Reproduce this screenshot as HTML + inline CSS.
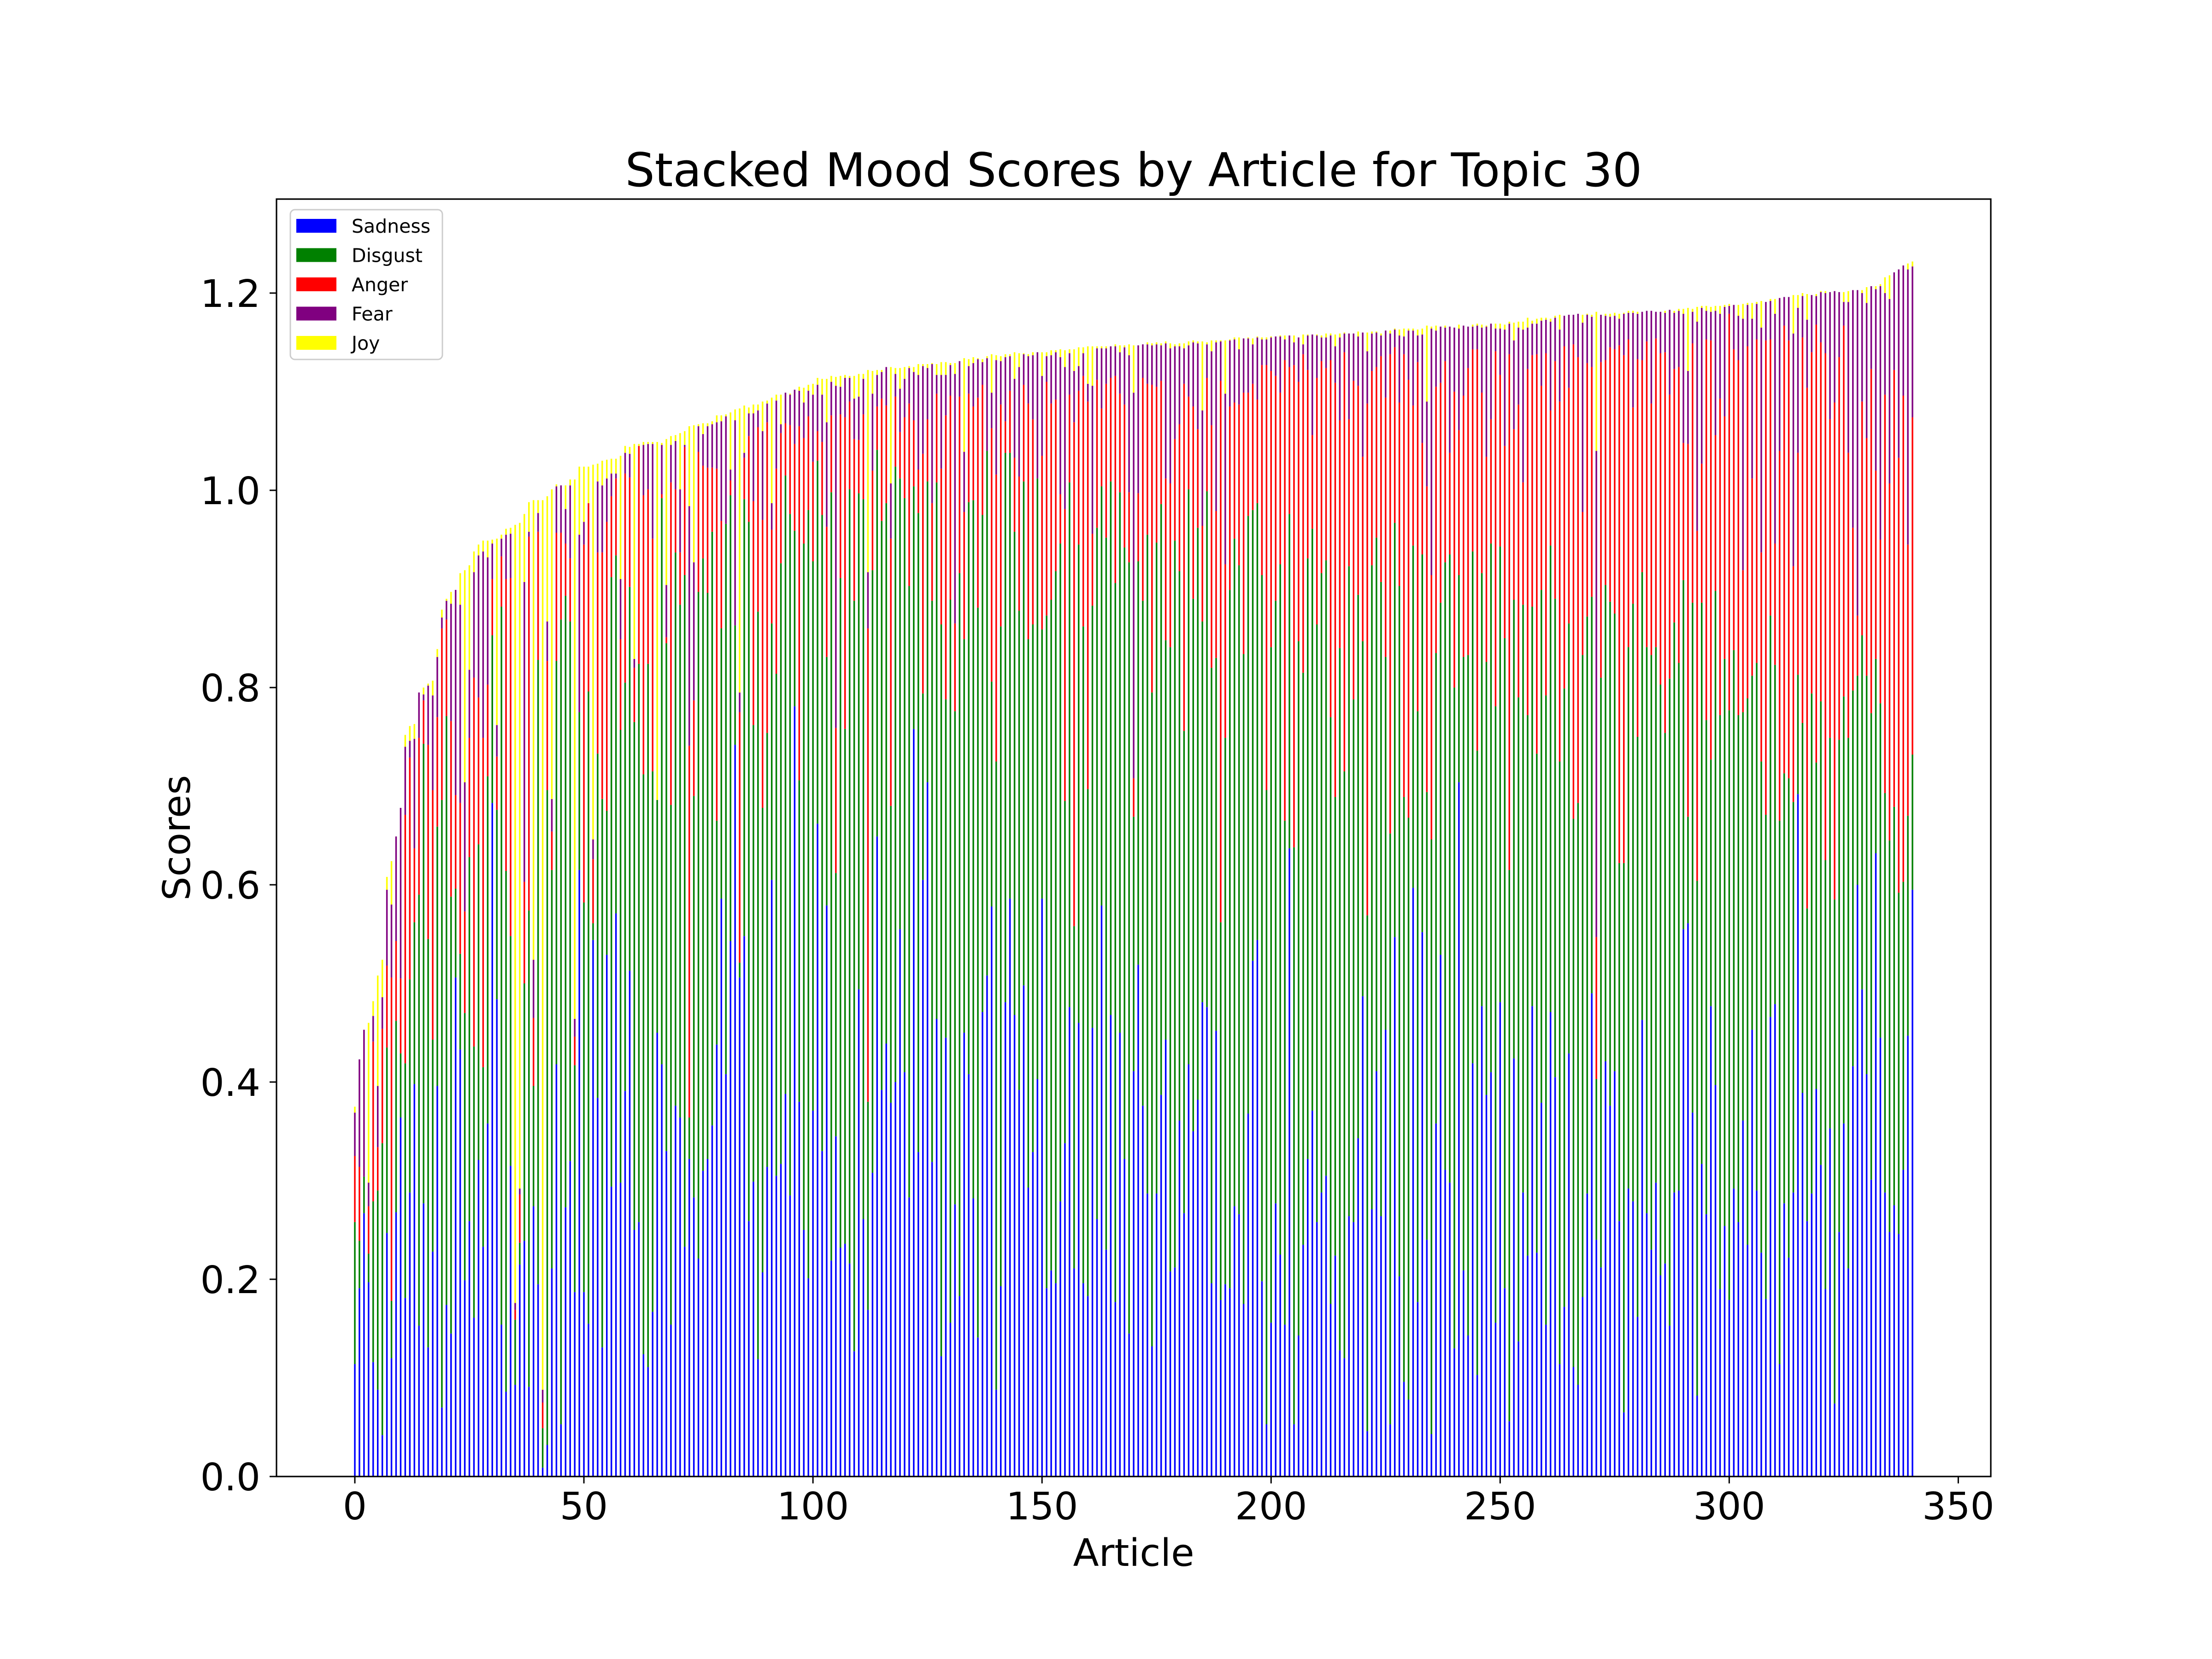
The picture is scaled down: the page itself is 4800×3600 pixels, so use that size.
<!DOCTYPE html>
<html>
<head>
<meta charset="utf-8">
<style>
  html, body { margin: 0; padding: 0; background: #fff; }
  svg { display: block; }
  text { font-family: "DejaVu Sans", "Liberation Sans", sans-serif; fill: #000; }
</style>
</head>
<body>
<svg id="chart" width="4800" height="3600" viewBox="0 0 4800 3600" xmlns="http://www.w3.org/2000/svg">
  <rect x="0" y="0" width="4800" height="3600" fill="#fff"/>
  <g id="bars"></g>
  <rect x="600" y="432" width="3720" height="2772" fill="none" stroke="#000" stroke-width="3.2"/>
  <g id="xticks"></g>
  <g id="yticks"></g>
  <text x="2460" y="404" text-anchor="middle" font-size="101">Stacked Mood Scores by Article for Topic 30</text>
  <text x="2460" y="3398" text-anchor="middle" font-size="82">Article</text>
  <text x="0" y="0" transform="translate(412,1818) rotate(-90)" text-anchor="middle" font-size="82">Scores</text>
  <g id="legend">
    <rect x="630" y="455" width="330" height="325" rx="10" ry="10" fill="#fff" fill-opacity="0.8" stroke="#cccccc" stroke-width="3"/>
  </g>
</svg>
<script>
const categories = ["Sadness","Disgust","Anger","Fear","Joy"];
const seriesColors = ["#0000ff","#008000","#ff0000","#800080","#ffff00"];
const xTicks = [0,50,100,150,200,250,300,350];
const xTickLabels = ["0","50","100","150","200","250","300","350"];
const yTicks = [0,0.2,0.4,0.6,0.8,1.0,1.2];
const yTickLabels = ["0.0","0.2","0.4","0.6","0.8","1.0","1.2"];

const sadness = [.114,.191,.267,.197,.116,.088,.042,.247,.12,.268,
.364,.181,.288,.398,.153,.277,.131,.228,.396,.07,
.174,.145,.506,.433,.199,.259,.161,.321,.233,.358,
.683,.484,.154,.086,.315,.093,.215,.239,.091,.274,
.195,.009,.032,.211,.418,.053,.273,.32,.187,.615,
.187,.155,.544,.384,.131,.529,.294,.571,.298,.391,
.513,.25,.258,.124,.111,.167,.45,.418,.33,.154,
.376,.364,.233,.322,.283,.221,.31,.322,.356,.438,
.586,.408,.543,.742,.506,.548,.259,.299,.119,.207,
.314,.605,.305,.317,.388,.285,.781,.38,.25,.201,
.371,.662,.33,.579,.219,.345,.232,.236,.216,.127,
.494,.261,.169,.308,.649,.392,.439,.379,.4,.555,
.41,.283,.758,.329,.605,.704,.319,.464,.122,.445,
.156,.276,.183,.45,.408,.282,.141,.471,.508,.578,
.088,.193,.481,.586,.468,.392,.498,.293,.329,.403,
.586,.191,.209,.196,.279,.338,.476,.211,.46,.196,
.183,.455,.261,.579,.23,.468,.177,.45,.322,.145,
.411,.519,.376,.287,.132,.287,.387,.443,.208,.212,
.361,.267,.418,.35,.382,.481,.476,.196,.452,.179,
.195,.191,.274,.266,.175,.368,.523,.544,.198,.053,
.156,.277,.225,.154,.637,.053,.143,.235,.322,.371,
.258,.288,.305,.175,.224,.128,.12,.264,.258,.343,
.487,.046,.271,.411,.264,.453,.053,.547,.203,.096,
.078,.597,.177,.552,.24,.043,.358,.529,.311,.298,
.13,.704,.209,.143,.419,.103,.477,.387,.41,.156,
.481,.191,.056,.424,.137,.288,.224,.477,.227,.379,
.154,.471,.405,.114,.172,.429,.111,.093,.182,.287,
.49,.24,.212,.421,.376,.411,.259,.065,.292,.279,
.162,.463,.267,.23,.298,.204,.216,.153,.288,.29,
.555,.561,.369,.082,.317,.266,.477,.397,.19,.254,
.179,.292,.258,.361,.235,.453,.29,.227,.18,.466,
.479,.114,.277,.222,.288,.692,.389,.259,.287,.393,
.316,.19,.353,.074,.248,.358,.211,.416,.6,.494,
.408,.301,.632,.445,.288,.248,.275,.246,.311,.447,.595];

const disgust = [.144,.048,.037,.029,.163,.202,.296,.188,.058,.194,
.065,.238,.216,.164,.437,.466,.414,.215,.263,.616,
.597,.443,.09,.097,.271,.369,.275,.32,.182,.352,
.17,.192,.728,.528,.233,.066,.022,.261,.483,.122,
.633,.04,.664,.404,.409,.816,.62,.547,.23,.16,
.395,.641,.017,.349,.556,.146,.618,.363,.459,.414,
.389,.515,.566,.588,.713,.548,.236,.574,.515,.527,
.561,.52,.681,.042,.407,.676,.621,.574,.602,.227,
.274,.558,.452,.121,.015,.443,.709,.463,.758,.471,
.44,.26,.509,.609,.627,.691,.178,.326,.696,.779,
.557,.368,.645,.252,.779,.267,.679,.522,.785,.761,
.503,.73,.211,.611,.392,.577,.548,.301,.624,.457,
.582,.62,.246,.648,.189,.305,.569,.544,.742,.343,
.733,.5,.733,.399,.58,.708,.74,.504,.532,.228,
.637,.669,.557,.452,.49,.486,.511,.556,.535,.609,
.273,.682,.68,.722,.667,.347,.532,.347,.485,.666,
.514,.428,.701,.425,.722,.541,.729,.548,.62,.782,
.258,.409,.512,.668,.663,.66,.599,.405,.633,.737,
.557,.489,.583,.54,.58,.386,.523,.624,.378,.383,
.554,.708,.677,.658,.659,.606,.457,.443,.716,.643,
.685,.611,.7,.511,.339,.585,.704,.58,.609,.59,
.606,.628,.624,.595,.465,.712,.595,.659,.53,.551,
.36,.523,.653,.541,.643,.378,.599,.42,.7,.593,
.59,.347,.599,.383,.454,.603,.477,.357,.616,.637,
.67,.21,.622,.69,.519,.633,.439,.439,.536,.625,
.462,.659,.559,.465,.653,.596,.548,.405,.506,.52,
.638,.473,.485,.611,.627,.436,.556,.59,.651,.585,
.402,.163,.598,.483,.511,.464,.363,.557,.549,.606,
.588,.454,.574,.603,.543,.599,.538,.656,.578,.535,
.354,.108,.517,.522,.569,.501,.25,.501,.582,.575,
.598,.546,.514,.414,.554,.359,.535,.498,.491,.407,
.344,.551,.436,.486,.396,.121,.375,.317,.507,.331,
.47,.435,.396,.511,.499,.433,.538,.381,.212,.359,
.404,.473,.197,.339,.405,.397,.404,.346,.292,.223,.137];

const anger = [.067,.075,0,.048,.162,.044,.116,.083,.328,.081,
.076,.252,.225,.075,.159,.044,.197,.253,.111,.174,
.098,.178,.095,.153,.103,.121,.374,.149,.334,.093,
.057,.054,.051,.296,.363,.01,.049,.103,.379,.069,
.13,.026,.131,.039,.13,.088,.053,.064,.029,0,
.363,.191,.065,.204,.25,.293,.082,.078,.092,.212,
.111,.055,.221,.283,.177,.236,0,.004,.006,.327,
.064,.053,.13,.377,.097,.142,.094,.127,.065,.357,
.109,0,.015,0,.254,.042,.087,.227,.187,.292,
.315,.095,.208,.132,.053,.09,.088,.359,.107,.095,
.101,.03,.074,.132,.078,.147,.166,.316,.089,.164,
.054,.086,.48,.101,.044,.124,.099,.271,.071,.047,
.082,.185,.067,.044,.243,.063,.099,.09,.158,.288,
.207,.089,.179,.129,.11,.095,.213,.132,0,.257,
.291,.225,.032,.063,.075,.136,.098,.239,.208,0,
.176,.237,.199,.174,.05,.296,.089,.511,.156,.254,
.393,.073,.15,.079,.156,.105,.21,.1,.145,.071,
.039,.069,.226,.153,.312,.158,.125,.164,.166,.103,
.149,.352,.094,.195,.1,.097,.115,.246,.149,.549,
.176,.186,.138,.163,.265,.125,.128,.105,.213,.431,
.28,.228,.174,.467,.149,.489,.263,.323,.191,.095,
.25,.215,.195,.362,.42,.231,.425,.149,.323,.212,
.187,.519,.197,.173,.229,.263,.486,.178,.186,.449,
.444,.142,.354,.113,.31,.268,.27,.223,.204,.103,
.3,.147,.265,.291,.205,.407,.183,.208,.126,.36,
.174,.195,.523,.173,.297,.124,.351,.255,.405,.207,
.347,.137,.241,.365,.347,.239,.481,.452,.145,.257,
.233,.144,.32,.228,.258,.268,.525,.515,.312,.199,
.383,.215,.31,.255,.313,.336,.386,.288,.257,.3,
.139,.378,.263,.355,.141,.386,.425,.158,.321,.246,
.402,.305,.36,.144,.357,.2,.328,.212,.481,.28,
.123,.375,.454,.444,.239,.225,.391,.528,.346,.444,
.364,.514,.323,.504,.388,.376,.289,.165,.061,.237,
.241,.349,.191,.166,.404,.362,.443,.441,.493,.275,.342];

const fear = [.044,.109,.149,.024,.026,.062,.032,.077,.074,.106,
.173,.069,.017,.111,.046,.006,.06,.096,.061,.011,
.019,.119,.208,.201,.131,.069,.107,.144,.189,.129,
.036,.032,.018,.045,.045,.007,.006,.304,.005,.059,
.019,.013,.04,.033,.047,.048,.035,.074,.018,.18,
.023,0,.02,.072,.068,.044,.023,.005,.061,.021,
.024,.009,0,.051,.046,.096,0,.05,.053,.038,
.049,.064,.002,.243,.14,.026,.032,.042,.044,.047,
.101,.109,.011,.208,.02,.005,.023,.089,.017,.09,
.019,.027,.069,.009,.031,.031,.055,.036,.036,.026,
.068,.047,.048,.106,.034,.347,.028,.04,.024,.041,
.044,.036,.057,.078,.032,.027,.039,.056,.023,.044,
.039,.036,.049,.096,.089,.052,.141,.019,.095,.041,
.031,.253,.036,.061,.028,.044,.039,.023,.094,.036,
.116,.044,.065,.035,.08,.111,.031,.048,.065,.128,
.081,.026,.049,.048,.139,.144,.042,.052,.025,.023,
.018,.15,.032,.061,.036,.032,.03,.042,.058,.139,
.391,.15,.034,.04,.04,.043,.036,.137,.137,.094,
.079,.036,.052,.065,.087,.117,.034,.075,.171,.04,
.173,.067,.064,.056,.055,.055,.04,.063,.026,.026,
.034,.04,.057,.021,.032,.023,.045,.01,.035,.102,
.043,.024,.031,.025,.037,.084,.019,.087,.048,.05,
.126,.053,.038,.035,.021,.068,.021,.018,.068,.018,
.05,.076,.027,.11,.086,.25,.057,.057,.034,.128,
.065,.103,.071,.042,.023,.024,.066,.132,.097,.023,
.047,.118,.031,.09,.078,.155,.042,.032,.031,.066,
.034,.09,.044,.073,.031,.074,.03,.044,.192,.049,
.051,.493,.048,.045,.031,.034,.027,.042,.027,.096,
.046,.049,.031,.094,.027,.042,.04,.086,.057,.057,
.131,.074,.032,.212,.158,.029,.029,.126,.086,.111,
.008,.045,.045,.255,.042,.162,.036,.228,.039,.039,
.233,.155,.029,.044,.236,.147,.042,.069,.058,.029,
.051,.061,.129,.113,.066,.024,.153,.241,.33,.11,
.137,.084,.184,.257,.103,.187,.099,.191,.132,.279,.153];

const joy = [.006,0,0,.162,.015,.112,.038,.013,.044,0,
0,.012,.015,.015,0,.007,.002,.015,.008,.008,
.002,.012,0,.032,.215,.106,.021,.011,.011,.017,
.004,.189,.004,.006,.006,.789,.675,.069,.03,.466,
.013,.902,.127,.314,.002,0,.024,.006,.547,.069,
.056,.037,.38,.018,.025,.019,.015,.015,.125,.007,
.007,.218,.002,.003,.002,.002,.363,.002,.148,.009,
.006,.057,.014,.081,.139,.002,.011,.003,.003,.007,
.006,.002,.058,.011,.288,.048,.006,.009,.006,.03,
.003,.107,.006,.03,0,.001,0,.004,.015,.006,
.011,.007,.016,.044,.006,.009,.011,.003,.002,.023,
.023,.005,.205,.023,.005,.002,0,.118,.006,.021,
.012,.002,.005,.011,.002,.004,.001,.011,.013,.013,
.002,.011,0,.095,.007,.006,.001,.003,.002,.039,
.005,.005,.003,.002,.027,.014,.001,.002,.003,0,
.024,.004,.005,.002,.008,.017,.004,.022,.019,.006,
.038,.04,.002,.002,.002,0,.002,.007,.002,.011,
.048,0,0,.002,.002,.002,.002,.002,.005,.002,
.003,.005,.004,.002,.002,.07,.002,.011,.002,.001,
.054,.001,.002,.012,0,.001,.006,.001,.002,.002,
.001,0,.001,.004,0,.007,0,.01,.001,0,
.001,.002,.004,.002,.012,.004,.001,0,0,.005,
0,.019,.002,.001,.002,0,.003,.001,.006,.008,
.002,.002,.006,.006,.077,.002,.005,0,.002,0,
0,.004,0,0,.002,.002,.003,.001,0,.005,
.005,.005,.002,.018,.006,.008,.01,.003,.005,.003,
.002,.003,.002,.015,0,0,0,0,.008,.001,
.002,.141,0,.002,.003,.003,.005,.001,.002,.002,
.002,0,0,0,0,0,.002,0,.002,.002,
.005,.064,.003,.015,.002,.005,.005,.005,.008,.002,
.002,0,.011,.015,.002,.016,.002,.027,0,.002,
.015,0,0,0,.039,.013,.003,.026,0,.002,
.001,.002,0,0,0,.01,.011,0,0,.003,
.016,0,.003,.002,.016,.024,0,0,0,.006,.005];

const series = [sadness, disgust, anger, fear, joy];
const NS = "http://www.w3.org/2000/svg";
const plotL = 600, plotR = 4320, plotT = 432, plotB = 3204;
const xMin = -17.1, xMax = 357.1, yMin = 0, yMax = 1.2953;
const barWidth = 0.35;
function xScale(v) { return plotL + (v - xMin) / (xMax - xMin) * (plotR - plotL); }
function yScale(v) { return plotB - (v - yMin) / (yMax - yMin) * (plotB - plotT); }

const barsG = document.getElementById('bars');
const n = sadness.length;
for (let i = 0; i < n; i++) {
  let base = 0;
  for (let s = 0; s < series.length; s++) {
    const val = series[s][i];
    if (val <= 0) continue;
    const y1 = yScale(base + val), y0 = yScale(base);
    const r = document.createElementNS(NS, 'rect');
    r.setAttribute('x', xScale(i - barWidth / 2));
    r.setAttribute('y', y1);
    r.setAttribute('width', xScale(barWidth) - xScale(0));
    r.setAttribute('height', y0 - y1);
    r.setAttribute('fill', seriesColors[s]);
    
    
    barsG.appendChild(r);
    base += val;
  }
}

const xg = document.getElementById('xticks');
xTicks.forEach((t, k) => {
  const x = xScale(t);
  const ln = document.createElementNS(NS, 'line');
  ln.setAttribute('x1', x); ln.setAttribute('x2', x);
  ln.setAttribute('y1', plotB); ln.setAttribute('y2', plotB + 15);
  ln.setAttribute('stroke', '#000'); ln.setAttribute('stroke-width', '3');
  
  
  xg.appendChild(ln);
  const tx = document.createElementNS(NS, 'text');
  tx.setAttribute('x', x); tx.setAttribute('y', plotB + 93);
  tx.setAttribute('text-anchor', 'middle'); tx.setAttribute('font-size', '82');
  tx.textContent = xTickLabels[k];
  
  
  xg.appendChild(tx);
});

const yg = document.getElementById('yticks');
yTicks.forEach((t, k) => {
  const y = yScale(t);
  const ln = document.createElementNS(NS, 'line');
  ln.setAttribute('x1', plotL - 15); ln.setAttribute('x2', plotL);
  ln.setAttribute('y1', y); ln.setAttribute('y2', y);
  ln.setAttribute('stroke', '#000'); ln.setAttribute('stroke-width', '3');
  
  
  yg.appendChild(ln);
  const tx = document.createElementNS(NS, 'text');
  tx.setAttribute('x', plotL - 35); tx.setAttribute('y', y + 30);
  tx.setAttribute('text-anchor', 'end'); tx.setAttribute('font-size', '82');
  tx.textContent = yTickLabels[k];
  
  
  yg.appendChild(tx);
});

const lg = document.getElementById('legend');
categories.forEach((c, k) => {
  const cy = 490 + k * 63.5;
  const p = document.createElementNS(NS, 'rect');
  p.setAttribute('x', 643); p.setAttribute('y', cy - 15);
  p.setAttribute('width', 87); p.setAttribute('height', 30);
  p.setAttribute('fill', seriesColors[k]);
  
  
  lg.appendChild(p);
  const t = document.createElementNS(NS, 'text');
  t.setAttribute('x', 763); t.setAttribute('y', cy + 15);
  t.setAttribute('font-size', '41');
  t.textContent = c;
  
  
  lg.appendChild(t);
});
</script>
</body>
</html>
